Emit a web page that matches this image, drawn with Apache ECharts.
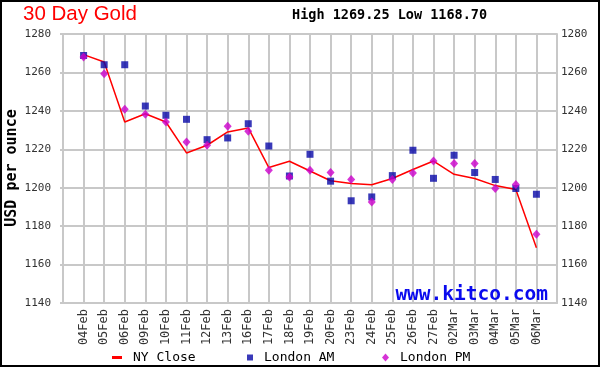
<!DOCTYPE html>
<html><head><meta charset="utf-8">
<script src="https://cdn.jsdelivr.net/npm/echarts@6/dist/echarts.min.js"></script>
<style>
html,body{margin:0;padding:0;background:#fff;}
#chart{position:absolute;left:0;top:0;width:600px;height:367px;}
</style></head>
<body><div id="chart"></div>
<script>
const categories = ['04Feb','05Feb','06Feb','09Feb','10Feb','11Feb','12Feb','13Feb','16Feb','17Feb','18Feb','19Feb','20Feb','23Feb','24Feb','25Feb','26Feb','27Feb','02Mar','03Mar','04Mar','05Mar','06Mar'];
const nyClose  = [1269.25,1265.4,1234.2,1238.5,1234.2,1218.1,1222.1,1229.0,1231.1,1210.5,1213.8,1208.7,1203.6,1202.2,1201.5,1204.8,1209.5,1213.9,1207.0,1204.8,1201.1,1199.1,1168.70];
const londonAM = [1268.8,1264.0,1264.0,1242.5,1237.7,1235.6,1225.0,1225.9,1233.3,1221.7,1206.1,1217.4,1203.4,1193.2,1195.2,1206.3,1219.5,1204.9,1216.9,1207.9,1204.3,1199.6,1196.6];
const londonPM = [1268.0,1259.3,1240.9,1238.2,1234.2,1223.8,1222.1,1232.0,1229.4,1209.1,1205.6,1209.1,1207.9,1204.3,1192.6,1204.3,1207.7,1213.9,1212.6,1212.6,1199.6,1201.7,1175.8];
const yMin = 1140, yMax = 1280, yStep = 20;
const titleText = '30 Day Gold';
const highLowText = 'High 1269.25 Low 1168.70';
const yName = 'USD per ounce';
const watermark = 'www.kitco.com';

const axisCats = [''].concat(categories, [' ']);
const pad = arr => [null].concat(arr, [null]);
const mono = 'DejaVu Sans Mono';
const gridColor = '#c8c8c8';

function yAxis(pos, margin){
  return {
    type:'value', position:pos, min:yMin, max:yMax, interval:yStep,
    axisLine:{show:true, lineStyle:{color:gridColor, width:2}},
    axisTick:{show:pos==='left', length:3, lineStyle:{color:gridColor, width:2}},
    splitLine:{show:pos==='left', lineStyle:{color:gridColor, width:2, opacity:1}},
    axisLabel:{margin:margin, color:'#333', fontFamily:mono, fontSize:11, formatter:v => String(v)}
  };
}
const legendText = {fontFamily:mono, fontSize:13, color:'#000', padding:[0,0,0,6]};
const chart = echarts.init(document.getElementById('chart'), null, {renderer:'canvas'});
chart.setOption({
  animation:false,
  backgroundColor:'#ffffff',
  title:[
    {text:titleText, left:23, top:4, padding:0, textStyle:{color:'#ff0000', fontFamily:'Liberation Sans', fontWeight:'normal', fontSize:20.5}},
    {text:highLowText, left:292, top:8, padding:0, textStyle:{color:'#000', fontFamily:mono, fontWeight:'bold', fontSize:13.5}}
  ],
  grid:{left:63, right:43, top:34, bottom:64, outerBoundsMode:'none', containLabel:false},
  legend:[
    {data:[{name:'NY Close', icon:'rect'}], left:112, top:351, itemWidth:10, itemHeight:3, textStyle:legendText, padding:0},
    {data:[{name:'London AM', icon:'rect'}], left:247, top:351, itemWidth:6, itemHeight:6, textStyle:legendText, padding:0},
    {data:[{name:'London PM', icon:'diamond'}], left:382, top:351, itemWidth:7, itemHeight:8, textStyle:legendText, padding:0}
  ],
  xAxis:{
    type:'category', data:axisCats, boundaryGap:false,
    axisLine:{show:true, lineStyle:{color:gridColor, width:2}},
    axisTick:{show:false},
    splitLine:{show:true, interval:0, lineStyle:{color:gridColor, width:2, opacity:1}},
    axisLabel:{interval:0, rotate:90, margin:6, color:'#333', fontFamily:mono, fontSize:12}
  },
  yAxis:[yAxis('left',12), yAxis('right',4)],
  graphic:[
    {type:'text', x:12, y:168, rotation:Math.PI/2, z:10,
     style:{text:yName, align:'center', verticalAlign:'middle', fill:'#000', font:'bold 15px "DejaVu Sans Mono"'}},
    {type:'text', right:52, top:285, z:10, style:{text:watermark, fill:'#0a0aee', font:'bold 19.5px "DejaVu Sans Mono"'}},
    {type:'rect', silent:true, z:100, shape:{x:1, y:1, width:598, height:365}, style:{fill:'none', stroke:'#000', lineWidth:2}}
  ],
  series:[
    {name:'NY Close', type:'line', data:pad(nyClose), symbol:'none', lineStyle:{color:'#ff0000', width:1.5}, itemStyle:{color:'#ff0000'}, z:2},
    {name:'London AM', type:'scatter', data:pad(londonAM), symbol:'rect', symbolSize:7, itemStyle:{color:'#0808a8'}, z:3},
    {name:'London PM', type:'scatter', data:pad(londonPM), symbol:'diamond', symbolSize:[8,9], itemStyle:{color:'#cc00cc'}, z:4}
  ]
});
</script></body></html>
